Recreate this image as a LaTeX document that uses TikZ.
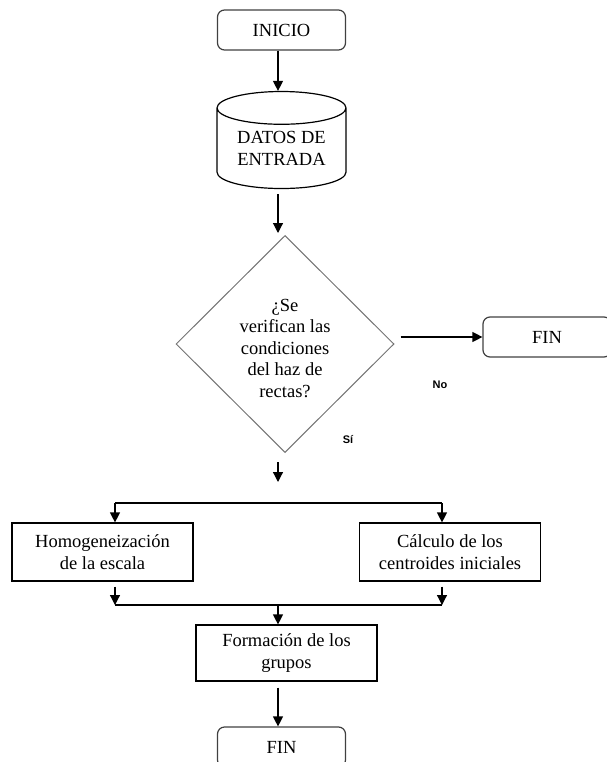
\documentclass[tikz,border=0pt]{standalone}
\usepackage{fontspec}
\setmainfont{Liberation Serif}
\setsansfont{Liberation Sans}
\usetikzlibrary{shapes.geometric,arrows.meta}
\tikzset{
  caja/.style={draw,line width=1.2pt,minimum width=181pt,minimum height=58pt,align=center,inner sep=2pt},
  term/.style={draw=black!75,line width=1.2pt,rounded corners=7pt,minimum width=128pt,minimum height=40pt},
  etiq/.style={font=\sffamily\bfseries\fontsize{11}{12}\selectfont}
}
\begin{document}
\begin{tikzpicture}[x=1pt,y=-1pt,>={Triangle[length=10pt,width=10pt]},line width=1.2pt,
  font=\fontsize{18.5}{21.5}\selectfont]
  \useasboundingbox (0,0) rectangle (606,762);
  \def\col{278} % eje de las flechas
  \path
  (\col,0) coordinate (col)
  (115,503) coordinate (sA)
  (442,503) coordinate (sB)
  (115,605) coordinate (jA)
  (442,605) coordinate (jB)
  (\col,605) coordinate (jM)
  (\col,482) coordinate (sM);
  % nodos
  \node[term] (inicio) at (281.5,30) {INICIO};
  \node[cylinder,draw,line width=1.2pt,shape border rotate=90,aspect=0.37,
    minimum width=129pt,minimum height=97pt,align=center,inner sep=0pt] (datos) at (281.5,148.5) {DATOS DE\\ENTRADA};
  \node[diamond,draw=black!55,line width=1pt,aspect=1,minimum width=218pt,minimum height=217pt,
    inner sep=0pt] (dec) at (285,344) {\raisebox{-10.5pt}[0pt][0pt]{\begin{tabular}{@{}c@{}}¿Se\\verifican las\\condiciones\\del haz de\\rectas?\end{tabular}}};
  \node[term] (fin1) at (547,337) {FIN};
  \node[caja] (homog) at (102.5,552) {Homogeneización\\de la escala};
  \node[caja] (calc) at (450,552) {Cálculo de los\\centroides iniciales};
  \node[caja,minimum height=56pt] (form) at (286.5,653) {Formación de los\\grupos};
  \node[term] (fin2) at (281.5,747) {FIN};
  \node[etiq] (no) at (440,385) {No};
  \node[etiq] (si) at (348,440) {Sí};
  % conectores
  \draw[->] (inicio.south -| col) -- (datos.north -| col);
  \draw[->,shorten <=5pt,shorten >=2pt] (datos.south -| col) -- (dec.north -| col);
  \draw[->,shorten <=6pt] (dec.east |- fin1) -- (fin1.west);
  \draw[->,shorten <=9pt] (dec.south -| col) -- (sM);
  \draw (sA) -- (sB);
  \draw[->] (sA) -- (sA |- homog.north);
  \draw[->] (sB) -- (sB |- calc.north);
  \draw[->,shorten <=5pt] (jA |- homog.south) -- (jA);
  \draw[->,shorten <=5pt] (jB |- calc.south) -- (jB);
  \draw (jA) -- (jB);
  \draw[->] (jM) -- (jM |- form.north);
  \draw[->,shorten <=6pt] (form.south -| col) -- (fin2.north -| col);
\end{tikzpicture}
\end{document}
